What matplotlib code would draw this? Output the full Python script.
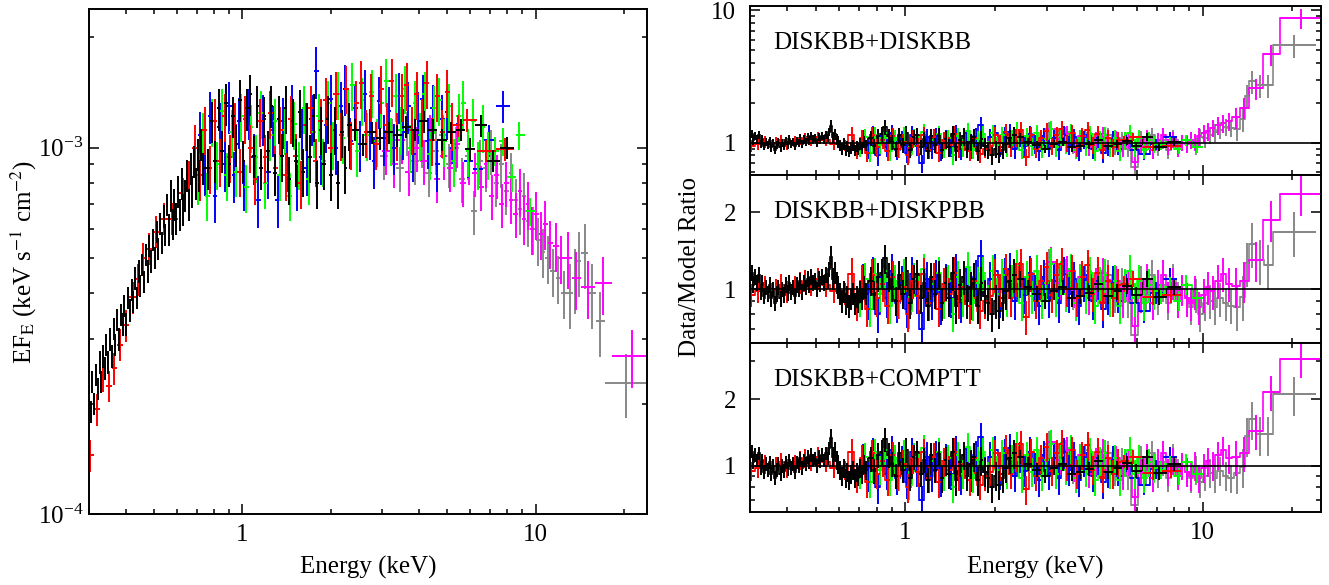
import numpy as np
import matplotlib
matplotlib.use('Agg')
import matplotlib.pyplot as plt
from matplotlib.ticker import FixedLocator, FuncFormatter, NullFormatter, LogLocator

plt.rcParams['font.family'] = ['Liberation Serif', 'DejaVu Serif']
plt.rcParams['mathtext.fontset'] = 'stix'
plt.rcParams['font.size'] = 18

# ---------------- data ----------------
# energies in keV, fluxes in units of 1e-3 keV s^-1 cm^-2
e_blk = [0.300, 0.304, 0.308, 0.313, 0.317, 0.321, 0.326, 0.330, 0.335, 0.340,
         0.344, 0.349, 0.354, 0.359, 0.364, 0.369, 0.374, 0.380, 0.385, 0.391,
         0.396, 0.402, 0.407, 0.413, 0.419, 0.425, 0.431, 0.437, 0.443, 0.449,
         0.456, 0.462, 0.469, 0.475, 0.482, 0.489, 0.496, 0.503, 0.510, 0.517,
         0.524, 0.532, 0.539, 0.547, 0.555, 0.562, 0.570, 0.578, 0.587, 0.595,
         0.603, 0.612, 0.621, 0.629, 0.638, 0.647, 0.657, 0.666, 0.675, 0.685,
         0.695, 0.704, 0.714, 0.725, 0.735,
         0.765, 0.786, 0.808, 0.831, 0.854, 0.878,
         0.903, 0.928, 0.954, 0.981, 1.008, 1.036, 1.065, 1.095, 1.126, 1.157,
         1.190, 1.223, 1.257, 1.292, 1.329, 1.366, 1.404, 1.443, 1.484, 1.525,
         1.568, 1.612, 1.657, 1.703, 1.751, 1.800, 1.850, 1.902, 1.955, 2.010,
         2.066, 2.124, 2.184, 2.245, 2.31,
         2.42, 2.58, 2.76, 2.95, 3.16, 3.38, 3.62, 3.88, 4.16, 4.46, 4.80, 5.16,
         5.55, 5.98, 6.5, 7.15, 8.0]
f_blk = [0.21, 0.19, 0.23, 0.20, 0.24, 0.22, 0.26, 0.23, 0.27, 0.25,
         0.29, 0.26, 0.30, 0.27, 0.32, 0.29, 0.34, 0.30, 0.35, 0.33,
         0.37, 0.33, 0.39, 0.36, 0.41, 0.38, 0.44, 0.39, 0.46, 0.42,
         0.48, 0.43, 0.51, 0.46, 0.54, 0.49, 0.56, 0.50, 0.59, 0.53,
         0.62, 0.55, 0.65, 0.58, 0.70, 0.60, 0.74, 0.62, 0.70, 0.64,
         0.76, 0.66, 0.80, 0.68, 0.74, 0.84, 0.70, 0.88, 0.76, 0.92,
         0.80, 0.96, 0.84, 1.02, 0.88,
         0.88, 1.18, 0.92, 1.28, 0.98, 1.32,
         0.90, 1.22, 1.02, 1.35, 0.92, 1.28, 1.40, 0.95, 1.30, 0.88,
         1.22, 0.98, 1.30, 0.85, 1.20, 0.95, 1.28, 0.82, 1.18, 0.92,
         1.25, 0.86, 1.15, 0.94, 1.22, 0.80, 1.12, 0.90, 1.20, 0.84,
         1.12, 0.80, 1.10, 0.88, 1.15,
         1.12, 1.02, 1.10, 1.06, 1.10, 1.08, 1.14, 1.12, 1.18, 1.12, 1.05, 1.10,
         1.12, 0.99, 1.15, 0.92, 1.00]
r_blk = [1.10, 1.16, 1.04, 1.12, 1.06, 1.14, 0.98, 1.06, 0.94, 1.02,
         0.96, 1.04, 0.92, 1.00, 0.88, 0.96, 1.02, 0.92, 1.00, 0.95,
         1.04, 0.97, 1.06, 0.98, 1.02, 0.94, 1.04, 1.00, 1.08, 0.98,
         1.06, 1.02, 1.10, 1.04, 1.12, 1.06, 1.08, 1.00, 1.10, 1.05,
         1.12, 1.06, 1.14, 1.08, 1.20, 1.34, 1.10, 1.16, 1.06, 1.02,
         0.96, 0.90, 0.98, 0.88, 0.94, 0.86, 0.92, 0.96, 0.88, 0.94,
         0.90, 0.98, 0.92, 1.02, 0.96,
         1.08, 0.95, 1.12, 1.16, 1.32, 1.12,
         1.02, 0.90, 1.14, 0.96, 1.18, 0.88, 1.10, 1.15, 0.92, 1.06,
         0.86, 1.12, 0.96, 1.14, 0.88, 1.06, 0.92, 1.16, 0.86, 1.04,
         1.12, 0.90, 1.02, 1.10, 0.86, 1.06, 0.94, 0.88, 0.80, 0.90,
         0.82, 0.88, 0.98, 1.08, 1.14,
         1.10, 1.02, 0.96, 0.90, 0.98, 1.02, 0.92, 0.94, 0.97, 1.05, 0.94, 0.98,
         1.03, 0.95, 1.10, 0.93, 1.02]
err_blk = [0.07] * 45 + [0.10] * 20 + [0.13] * 20 + [0.15] * 21 + [0.07] * 17

e_red = [0.303, 0.320, 0.336, 0.352, 0.366, 0.382, 0.400, 0.425, 0.442, 0.460,
         0.480, 0.508, 0.540, 0.577, 0.627,
         0.660, 0.687, 0.715, 0.744, 0.774, 0.805, 0.838, 0.872, 0.907, 0.944,
         0.982, 1.022, 1.063, 1.106, 1.151, 1.198, 1.246, 1.297, 1.349, 1.404,
         1.461, 1.520, 1.581, 1.645, 1.712, 1.781, 1.853, 1.928, 2.006, 2.087,
         2.172, 2.260, 2.351, 2.446, 2.545, 2.648, 2.755, 2.867, 2.983, 3.104,
         3.229, 3.360, 3.496, 3.637, 3.784, 3.937, 4.097, 4.262, 4.435, 4.614,
         4.801, 4.995, 5.197,
         5.45, 5.85, 6.8, 7.85]
f_red = [0.145, 0.193, 0.239, 0.224, 0.25, 0.29, 0.328, 0.39, 0.437, 0.50,
         0.53, 0.59, 0.64, 0.64, 0.75,
         0.80, 1.00, 0.84, 1.12, 0.88, 1.18, 0.92, 1.22, 0.94, 1.15,
         0.86, 1.20, 1.00, 0.82, 1.18, 0.94, 1.24, 0.88, 1.12, 0.84,
         1.20, 0.95, 0.80, 1.15, 1.28, 0.92, 1.18, 1.35, 1.00, 1.40,
         1.08, 1.45, 1.02, 1.32, 1.50, 1.10, 1.38, 1.02, 1.45, 1.15,
         1.52, 1.08, 1.38, 1.48, 1.12, 1.40, 1.18, 1.50, 1.05, 1.38,
         1.10, 1.42, 1.15,
         1.15, 1.19, 0.98, 0.99]
r_red = [0.95, 0.98, 1.02, 0.96, 1.00, 1.04, 0.98, 1.02, 1.06, 1.08,
         1.05, 1.10, 1.04, 0.98, 0.96,
         1.15, 0.88, 1.08, 0.84, 1.14, 0.92, 1.05, 0.86, 1.12, 0.90,
         1.02, 0.80, 1.08, 0.94, 1.15, 0.88, 1.10, 0.84, 1.05, 0.96,
         1.16, 0.90, 1.02, 0.86, 1.08, 0.82, 0.90, 0.94, 1.14, 1.00,
         1.20, 0.92, 1.10, 1.25, 0.78, 1.15, 0.90, 1.08, 1.22, 0.95,
         1.14, 1.26, 1.00, 1.18, 0.92, 1.12, 1.24, 0.96, 1.16, 0.88,
         1.08, 0.92, 1.04,
         1.05, 1.10, 0.93, 0.95]
err_red = [0.10] * 15 + [0.15] * 53 + [0.07] * 4

e_blu = [0.720, 0.748, 0.777, 0.807, 0.838, 0.870, 0.904, 0.939, 0.975, 1.013,
         1.052, 1.093, 1.135, 1.179, 1.225, 1.272, 1.321, 1.372, 1.425, 1.480,
         1.538, 1.597, 1.659, 1.723, 1.790, 1.859, 1.931, 2.006, 2.083, 2.164,
         2.248, 2.335, 2.425, 2.519, 2.617, 2.718, 2.823, 2.932, 3.046, 3.164,
         3.286, 3.413, 3.545, 3.683, 3.825, 3.973, 4.127, 4.287, 4.453, 4.626,
         4.805, 4.991, 5.20, 5.50, 5.90, 6.35, 6.95, 7.77]
f_blu = [1.08, 0.88, 1.22, 0.74, 1.14, 0.90, 1.30, 0.84, 1.18, 0.80,
         1.25, 0.94, 0.72, 1.20, 0.86, 1.12, 0.72, 1.18, 0.90, 1.28,
         0.80, 1.10, 0.88, 1.20, 1.62, 0.94, 1.15, 1.36, 1.00, 1.30,
         1.45, 1.04, 1.28, 1.02, 1.40, 1.10, 0.92, 1.34, 1.06, 1.26,
         1.00, 1.38, 1.10, 1.30, 0.96, 1.22, 1.36, 1.04, 1.28, 0.90,
         1.20, 1.25, 1.00, 1.16, 0.92, 0.875, 1.05, 1.30]
r_blu = [1.08, 0.90, 1.15, 0.80, 1.12, 0.92, 1.18, 0.88, 1.06, 0.84,
         1.15, 0.95, 0.70, 1.10, 0.90, 1.12, 0.86, 1.08, 0.92, 1.18,
         0.88, 1.04, 0.90, 1.12, 1.35, 0.94, 1.10, 1.18, 0.92, 1.14,
         1.20, 0.90, 1.10, 0.95, 1.16, 0.98, 0.86, 1.12, 0.92, 1.08,
         0.88, 1.15, 0.96, 1.10, 0.86, 1.06, 1.14, 0.90, 1.08, 0.84,
         0.94, 1.06, 0.90, 1.04, 0.88, 0.82, 0.97, 1.10]
err_blu = [0.16] * 52 + [0.10] * 6

e_grn = [0.705, 0.732, 0.760, 0.790, 0.820, 0.852, 0.885, 0.919, 0.955, 0.992,
         1.030, 1.070, 1.111, 1.154, 1.199, 1.245, 1.293, 1.343, 1.395, 1.449,
         1.505, 1.564, 1.624, 1.687, 1.752, 1.820, 1.890, 1.963, 2.039, 2.118,
         2.200, 2.285, 2.373, 2.465, 2.560, 2.659, 2.762, 2.869, 2.980, 3.095,
         3.215, 3.339, 3.468, 3.602, 3.741, 3.886, 4.036, 4.192, 4.354, 4.523,
         4.697, 4.879, 5.068, 5.264, 5.467, 5.679, 5.898, 6.126, 6.363, 6.609,
         6.865, 7.25, 7.75, 8.3, 8.8, 9.6]
f_grn = [0.82, 1.08, 0.74, 1.18, 0.90, 1.26, 0.84, 1.10, 0.86, 1.22,
         0.78, 1.14, 0.94, 1.24, 0.80, 1.08, 1.18, 0.84, 1.12, 0.74,
         1.16, 0.90, 1.28, 0.82, 1.10, 1.22, 0.92, 1.32, 1.02, 1.40,
         1.06, 1.26, 1.48, 0.98, 1.35, 1.08, 1.42, 1.04, 1.32, 1.52,
         1.05, 1.38, 1.12, 1.45, 1.00, 1.32, 1.08, 1.40, 0.96, 1.28,
         1.35, 1.04, 1.30, 0.92, 1.22, 1.32, 0.98, 1.18, 0.90, 1.14,
         0.96, 0.98, 1.04, 0.83, 1.08, 0.67]
r_grn = [0.92, 1.10, 0.84, 1.15, 0.96, 1.18, 0.86, 1.08, 0.90, 1.14,
         0.82, 1.10, 0.98, 1.20, 0.88, 1.05, 1.16, 0.90, 1.08, 0.80,
         1.12, 0.92, 1.22, 0.88, 1.06, 1.16, 0.90, 1.18, 0.96, 1.14,
         0.92, 1.08, 1.24, 0.88, 1.12, 0.94, 1.18, 0.90, 1.06, 1.26,
         0.92, 1.12, 0.96, 1.20, 0.88, 1.08, 0.94, 1.16, 0.86, 1.06,
         1.14, 0.92, 1.08, 0.86, 1.04, 1.18, 0.92, 1.08, 0.88, 1.04,
         0.98, 0.96, 1.02, 0.90, 1.04, 0.92]
err_grn = [0.15] * 61 + [0.09] * 5

# hard X-ray data: bin edges given directly
edges_gry = [2.95, 3.15, 3.35, 3.55, 3.77, 3.99, 4.21, 4.45, 4.69, 4.95,
             5.21, 5.48, 5.76, 6.04, 6.32, 6.61, 6.90, 7.20, 7.50, 7.80,
             8.10, 8.40, 8.70, 9.00, 9.30, 9.62, 10.0, 10.4, 10.8, 11.2,
             11.7, 12.2, 12.75, 13.4, 13.9, 14.3, 15.1, 16.1, 17.2, 24.0]
f_gry = [0.95, 1.05, 0.88, 1.10, 0.92, 1.02, 0.85, 0.98, 1.08, 0.90,
         1.00, 0.82, 0.95, 0.67, 0.92, 0.88, 0.98, 0.80, 0.90, 0.76,
         0.85, 0.72, 0.68, 0.74, 0.63, 0.60, 0.56, 0.52, 0.50, 0.46,
         0.44, 0.40, 0.40, 0.44, 0.49, 0.515, 0.40, 0.336, 0.228]
r_gry_low = [1.26, 1.05, 1.15, 0.96, 1.10, 1.18, 0.92, 1.04, 1.14, 0.94,
             1.06, 0.90, 0.66, 1.08, 0.96, 1.14, 0.92, 1.04, 0.88, 1.10,
             0.94, 1.00]
r_gry_hi = {
    'DISKBB+DISKBB': [1.00, 1.05, 0.95, 1.10, 1.08, 1.15, 1.20, 1.25, 1.32, 1.30,
                      1.28, 1.50, 2.27, 2.91, 2.73, 2.73, 5.45],
    'DISKBB+DISKPBB': [0.92, 0.85, 0.95, 0.80, 0.88, 0.90, 0.85, 0.92, 0.88, 0.86,
                       0.855, 0.935, 1.27, 1.51, 1.30, 1.24, 1.675],
    'DISKBB+COMPTT': [0.94, 0.88, 0.96, 0.84, 0.90, 0.93, 0.88, 0.95, 0.90, 0.88,
                      0.925, 0.99, 1.37, 1.63, 1.39, 1.39, 2.11],
}
err_gry = [0.14] * 22 + [0.15] * 10 + [0.2] * 7

edges_mag = [3.0, 3.2, 3.4, 3.6, 3.82, 4.04, 4.27, 4.5, 4.74, 4.99,
             5.25, 5.52, 5.8, 6.08, 6.36, 6.65, 6.94, 7.23, 7.52, 7.81,
             8.1, 8.4, 8.7, 9.0, 9.3, 9.6, 9.9, 10.25, 10.6, 11.0,
             11.5, 12.0, 12.5, 13.3, 14.3, 15.9, 18.2, 25.0]
f_mag = [0.98, 0.90, 1.05, 0.86, 1.00, 0.92, 1.08, 0.82, 0.95, 0.88,
         1.02, 0.80, 0.92, 0.85, 0.78, 0.90, 0.74, 0.84, 0.70, 0.80,
         0.72, 0.66, 0.76, 0.64, 0.70, 0.60, 0.66, 0.58, 0.62, 0.55,
         0.54, 0.50, 0.50, 0.44, 0.416, 0.426, 0.27]
r_mag_low = [1.28, 1.06, 1.18, 0.98, 1.12, 0.92, 1.06, 1.16, 0.96, 1.08,
             0.90, 1.04, 0.72, 0.94, 1.10, 0.88, 1.04, 1.14, 0.94, 1.06,
             0.90, 1.00]
r_mag_hi = {
    'DISKBB+DISKBB': [0.98, 1.05, 1.02, 1.12, 1.18, 1.22, 1.30, 1.35, 1.40, 1.45,
                      1.56, 1.83, 2.57, 4.66, 8.76],
    'DISKBB+DISKPBB': [0.92, 0.88, 0.98, 0.85, 0.95, 1.02, 0.98, 1.08, 1.15, 1.05,
                       1.03, 1.08, 1.30, 1.87, 2.37],
    'DISKBB+COMPTT': [0.94, 0.90, 1.00, 0.88, 0.98, 1.05, 1.00, 1.12, 1.18, 1.08,
                      1.10, 1.14, 1.44, 2.17, 3.07],
}
err_mag = [0.14] * 22 + [0.15] * 10 + [0.18] * 5

models = ['DISKBB+DISKBB', 'DISKBB+DISKPBB', 'DISKBB+COMPTT']
ratio_ylims = [(0.573, 10.8), (0.614, 2.81), (0.616, 3.6)]
ratio_major = [[1, 10], [1, 2], [1, 2]]
ratio_minor = [[0.6, 0.7, 0.8, 0.9, 2, 3, 4, 5, 6, 7, 8, 9],
               [0.7, 0.8, 0.9],
               [0.7, 0.8, 0.9, 3]]

C_BLK, C_RED, C_GRN, C_BLU = 'black', '#ff0000', '#00ff00', '#0000ff'
C_GRY, C_MAG = '#888888', '#ff00ff'


def bins_from_centers(e):
    e = np.asarray(e, float)
    mid = np.sqrt(e[:-1] * e[1:])
    lo = np.r_[e[0] ** 2 / mid[0], mid]
    hi = np.r_[mid, e[-1] ** 2 / mid[-1]]
    return e, lo, hi


def bins_from_edges(edges):
    edges = np.asarray(edges, float)
    lo, hi = edges[:-1], edges[1:]
    return np.sqrt(lo * hi), lo, hi


# series in drawing order: (bins, flux, ratio per model, rel. error, colour)
series = []
series.append((bins_from_edges(edges_gry), f_gry,
               {m: r_gry_low + r_gry_hi[m] for m in models}, err_gry, C_GRY))
series.append((bins_from_edges(edges_mag), f_mag,
               {m: r_mag_low + r_mag_hi[m] for m in models}, err_mag, C_MAG))
for e, f, r, err, c in [(e_blu, f_blu, r_blu, err_blu, C_BLU),
                        (e_grn, f_grn, r_grn, err_grn, C_GRN),
                        (e_red, f_red, r_red, err_red, C_RED),
                        (e_blk, f_blk, r_blk, err_blk, C_BLK)]:
    series.append((bins_from_centers(e), f, {m: r for m in models}, err, c))

fig = plt.figure(figsize=(13.29, 5.85), dpi=100)
W, H = 1329.0, 585.0


def style_ax(ax, ypad):
    for s in ax.spines.values():
        s.set_linewidth(1.4)
    ax.tick_params(which='both', direction='in', top=True, right=True, width=1.1)
    ax.tick_params(which='major', length=7.2)
    ax.tick_params(which='minor', length=3.6)
    ax.tick_params(axis='x', pad=7)
    ax.tick_params(axis='y', pad=ypad)


plain = FuncFormatter(lambda v, p: '%g' % v)

# ---------------- left: unfolded spectrum ----------------
axl = fig.add_axes([89 / W, 1 - 514 / H, (647 - 89) / W, (514 - 9) / H])
for (cen, lo, hi), f, r, err, c in series:
    f = np.asarray(f) * 1e-3
    axl.errorbar(cen, f, xerr=[cen - lo, hi - cen], yerr=f * np.asarray(err),
                 fmt='none', ecolor=c, elinewidth=1.4, capsize=0)
axl.set_xscale('log')
axl.set_yscale('log')
axl.set_xlim(0.3, 24)
axl.set_ylim(1e-4, 2.39e-3)
axl.xaxis.set_major_locator(FixedLocator([1, 10]))
axl.xaxis.set_minor_locator(FixedLocator([0.3, 0.4, 0.5, 0.6, 0.7, 0.8, 0.9,
                                          2, 3, 4, 5, 6, 7, 8, 9, 20]))
axl.xaxis.set_major_formatter(plain)
axl.xaxis.set_minor_formatter(NullFormatter())
axl.yaxis.set_minor_locator(LogLocator(subs=np.arange(2, 10)))
axl.yaxis.set_minor_formatter(NullFormatter())
style_ax(axl, 4)
fig.text(368 / W, 1 - 567 / H, 'Energy (keV)', ha='center', va='center')
fig.text(24 / W, 1 - 262 / H, r'EF$_{\rm E}$ (keV s$^{-1}$ cm$^{-2}$)',
         rotation=90, ha='center', va='center')

# ---------------- right: data/model ratios ----------------
x0, x1, ytop, ybot = 750, 1321, 6, 512
ph = (ybot - ytop) / 3.0
for i, m in enumerate(models):
    ax = fig.add_axes([x0 / W, 1 - (ytop + (i + 1) * ph) / H, (x1 - x0) / W, ph / H])
    for (cen, lo, hi), f, r, err, c in series:
        rv = np.asarray(r[m])
        ax.stairs(rv, np.r_[lo, hi[-1]], color=c, lw=1.2, baseline=None)
        ax.errorbar(cen, rv, xerr=[cen - lo, hi - cen], yerr=rv * np.asarray(err),
                    fmt='none', ecolor=c, elinewidth=1.4, capsize=0)
    ax.axhline(1, color='black', lw=1.2, zorder=5)
    ax.set_xscale('log')
    ax.set_yscale('log')
    ax.set_xlim(0.3, 25)
    ax.set_ylim(*ratio_ylims[i])
    ax.xaxis.set_major_locator(FixedLocator([1, 10]))
    ax.xaxis.set_minor_locator(FixedLocator([0.3, 0.4, 0.5, 0.6, 0.7, 0.8, 0.9,
                                             2, 3, 4, 5, 6, 7, 8, 9, 20]))
    ax.xaxis.set_major_formatter(plain if i == 2 else NullFormatter())
    ax.xaxis.set_minor_formatter(NullFormatter())
    ax.yaxis.set_major_locator(FixedLocator(ratio_major[i]))
    ax.yaxis.set_minor_locator(FixedLocator(ratio_minor[i]))
    ax.yaxis.set_major_formatter(plain)
    ax.yaxis.set_minor_formatter(NullFormatter())
    style_ax(ax, 10)
    ax.text(0.04, 0.78, m, transform=ax.transAxes, ha='left', va='center')

fig.text(1035 / W, 1 - 567 / H, 'Energy (keV)', ha='center', va='center')
fig.text(690 / W, 1 - 267 / H, 'Data/Model Ratio', rotation=90, ha='center', va='center')

fig.savefig('out.png', dpi=100)
